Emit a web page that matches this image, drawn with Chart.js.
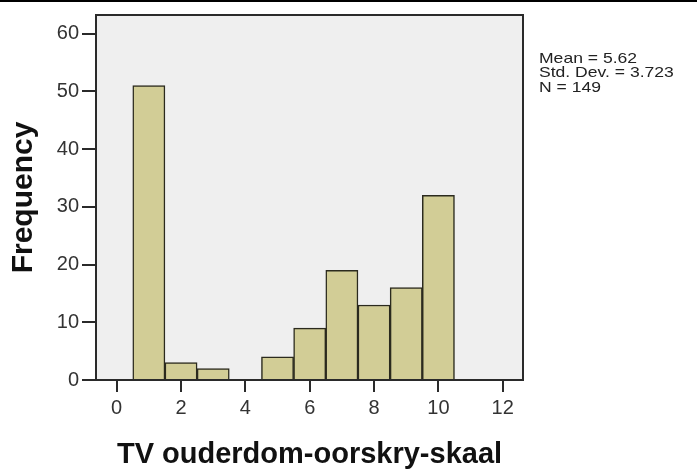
<!DOCTYPE html>
<html>
<head>
<meta charset="utf-8">
<script src="https://cdn.jsdelivr.net/npm/chart.js@4/dist/chart.umd.min.js"></script>
<style>
  html, body { margin: 0; padding: 0; background: #fff; }
  #wrap { width: 697px; height: 472px; }
</style>
</head>
<body>
<div id="wrap"><canvas id="hist" width="697" height="472"></canvas></div>
<script>
// histogram bins (bin centre) and counts
var binCenters = [1, 2, 3, 4, 5, 6, 7, 8, 9, 10];
var frequencies = [51, 3, 2, 0, 4, 9, 19, 13, 16, 32];
var xTickValues = [0, 2, 4, 6, 8, 10, 12];
var yTickValues = [0, 10, 20, 30, 40, 50, 60];
var statLines = ['Mean = 5.62', 'Std. Dev. = 3.723', 'N = 149'];
var xTitle = 'TV ouderdom-oorskry-skaal';
var yTitle = 'Frequency';

var axisColor = '#2a2a2a';

// grey plot background, frame, and the stats text at the right
var spssLook = {
    id: 'spssLook',
    beforeDraw: function(chart) {
        var ctx = chart.ctx, a = chart.chartArea;
        ctx.save();
        ctx.fillStyle = '#fff';
        ctx.fillRect(0, 0, chart.width, chart.height);
        ctx.fillStyle = '#efefef';
        ctx.fillRect(a.left, a.top, a.right - a.left, a.bottom - a.top);
        ctx.restore();
    },
    afterDraw: function(chart) {
        var ctx = chart.ctx, a = chart.chartArea;
        ctx.save();
        ctx.strokeStyle = axisColor;
        ctx.lineWidth = 2;
        ctx.strokeRect(a.left, a.top, a.right - a.left, a.bottom - a.top);
        // x axis line runs on to the left under the y ticks
        ctx.beginPath();
        ctx.moveTo(a.left - 14, a.bottom);
        ctx.lineTo(a.left, a.bottom);
        ctx.stroke();
        // thin black line at the very top of the picture
        ctx.strokeStyle = '#000';
        ctx.beginPath();
        ctx.moveTo(0, 1);
        ctx.lineTo(chart.width, 1);
        ctx.stroke();
        // stats
        ctx.fillStyle = '#222';
        ctx.font = '15px "Liberation Sans", Arial, sans-serif';
        ctx.textBaseline = 'middle';
        for (var i = 0; i < statLines.length; i++) {
            ctx.save();
            ctx.translate(a.right + 16, 59 + i * 14.3);
            ctx.scale(1.17, 1);
            ctx.fillText(statLines[i], 0, 0);
            ctx.restore();
        }
        ctx.restore();
    }
};

function createHistogram(chartId) {
    var ctx = document.getElementById(chartId).getContext('2d');
    return new Chart(ctx, {
        type: 'bar',
        data: {
            datasets: [{
                label: 'Frequency',
                data: binCenters.map(function(x, i) { return { x: x, y: frequencies[i] }; }),
                backgroundColor: '#d2cd96',
                borderColor: '#2b2a1e',
                borderWidth: 1.5,
                barPercentage: 1,
                categoryPercentage: 1
            }]
        },
        options: {
            responsive: false,
            animation: false,
            devicePixelRatio: 1,
            layout: { padding: { left: 0, top: 10, right: 174, bottom: 0 } },
            plugins: { legend: { display: false }, tooltip: { enabled: false } },
            scales: {
                x: {
                    type: 'linear',
                    min: -0.643,
                    max: 12.63,
                    offset: false,
                    afterBuildTicks: function(s) { s.ticks = xTickValues.map(function(v) { return { value: v }; }); },
                    afterFit: function(s) { s.height = 92; },
                    grid: { offset: false, drawOnChartArea: false, tickLength: 12, color: axisColor, lineWidth: 2 },
                    border: { color: axisColor, width: 2 },
                    ticks: {
                        color: '#333',
                        padding: 4,
                        maxRotation: 0,
                        font: { family: '"Liberation Sans", Arial, sans-serif', size: 20 }
                    },
                    title: {
                        display: true,
                        text: xTitle,
                        color: '#111',
                        padding: { top: 0, bottom: 0 },
                        font: { family: '"Liberation Sans", Arial, sans-serif', size: 29, weight: 'bold' }
                    }
                },
                y: {
                    min: 0,
                    max: 63.25,
                    afterBuildTicks: function(s) { s.ticks = yTickValues.map(function(v) { return { value: v }; }); },
                    afterFit: function(s) { s.width = 96; },
                    grid: { drawOnChartArea: false, tickLength: 14, color: axisColor, lineWidth: 2 },
                    border: { color: axisColor, width: 2 },
                    ticks: {
                        color: '#333',
                        padding: 3,
                        font: { family: '"Liberation Sans", Arial, sans-serif', size: 20 }
                    },
                    title: {
                        display: true,
                        text: yTitle,
                        color: '#111',
                        padding: { top: 6, bottom: 0 },
                        font: { family: '"Liberation Sans", Arial, sans-serif', size: 30, weight: 'bold' }
                    }
                }
            }
        },
        plugins: [spssLook]
    });
}

createHistogram('hist');
</script>
</body>
</html>
